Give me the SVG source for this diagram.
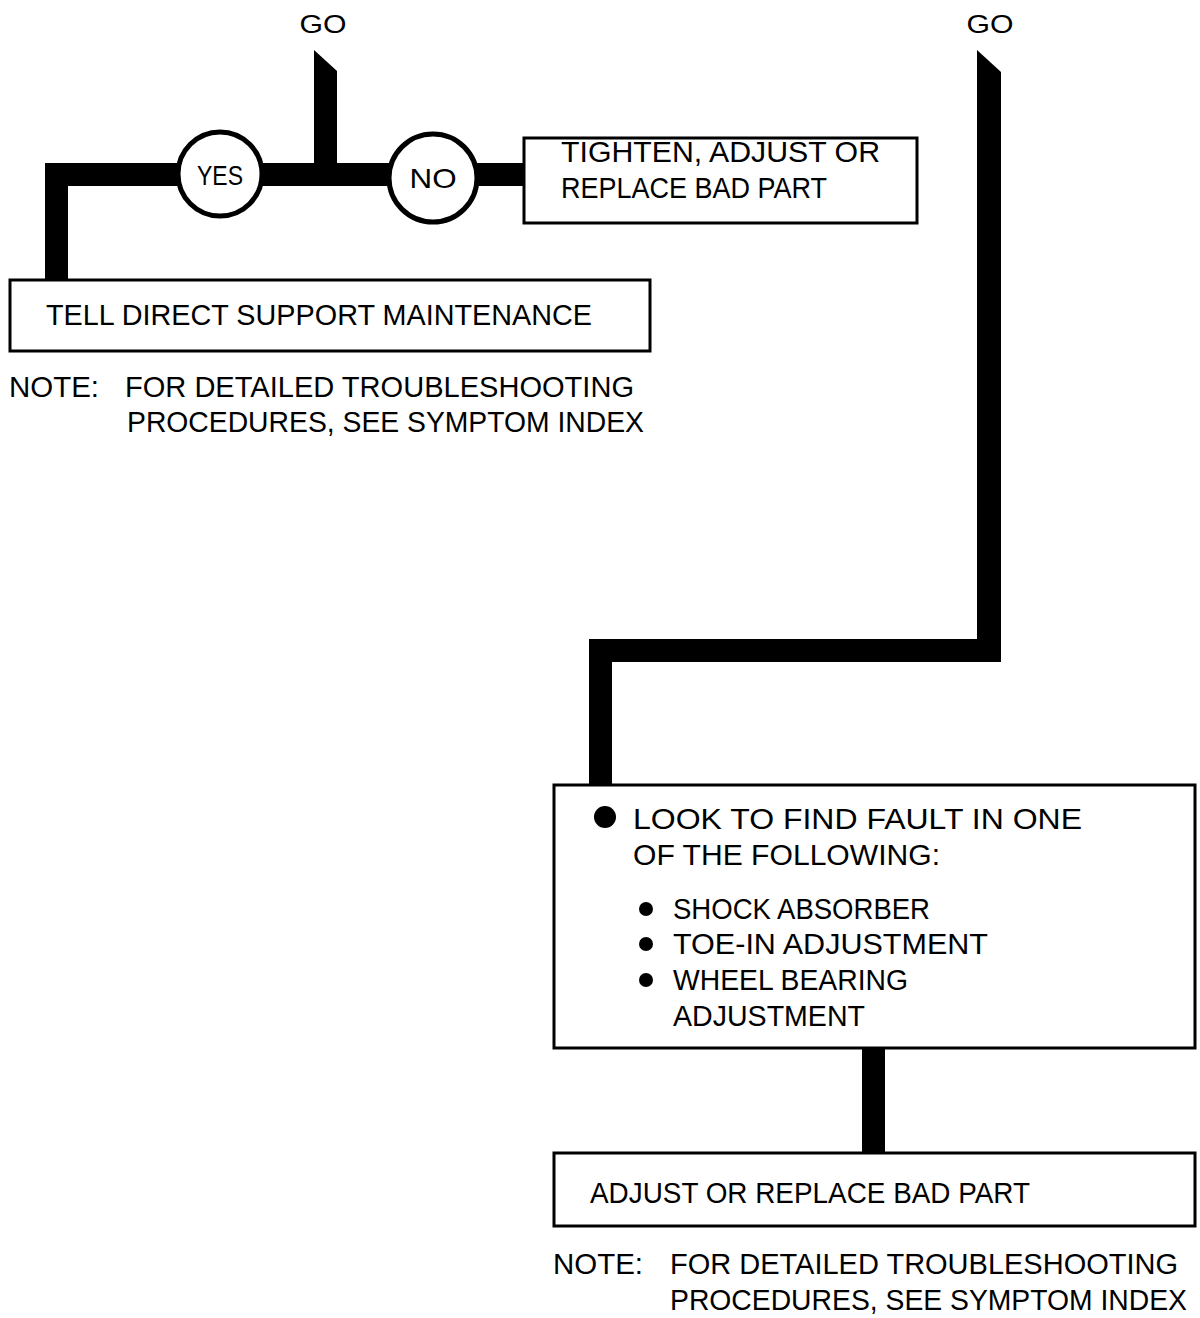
<svg xmlns="http://www.w3.org/2000/svg" width="1200" height="1318" viewBox="0 0 1200 1318">
<style>
  text { font-family: "Liberation Sans", Arial, sans-serif; font-size: 29px; fill: #000; }
  .box { fill: #fff; stroke: #000; stroke-width: 3; }
  .circ { fill: #fff; stroke: #000; stroke-width: 5; }
  .conn { fill: #000; stroke: none; }
  .go { font-size: 25px; }
  .yn { font-size: 28px; }
</style>
<rect width="1200" height="1318" fill="#fff"/>
<g id="connectors">
  <polygon class="conn" points="314,50 337,71 337,175 314,175"/>
  <rect class="conn" x="45" y="163" width="480" height="23"/>
  <rect class="conn" x="45" y="163" width="23" height="118"/>
  <polygon class="conn" points="977,50 1001,72 1001,662 977,662"/>
  <rect class="conn" x="589" y="639" width="412" height="23"/>
  <rect class="conn" x="589" y="639" width="23" height="147"/>
  <rect class="conn" x="862" y="1047" width="23" height="107"/>
</g>
<g id="go-left">
  <text x="323" y="33" text-anchor="middle" class="go" textLength="47" lengthAdjust="spacingAndGlyphs">GO</text>
</g>
<g id="go-right">
  <text x="990" y="33" text-anchor="middle" class="go" textLength="47" lengthAdjust="spacingAndGlyphs">GO</text>
</g>
<g id="yes">
  <circle class="circ" cx="220" cy="174" r="42"/>
  <text x="220" y="185" text-anchor="middle" class="yn" textLength="46" lengthAdjust="spacingAndGlyphs">YES</text>
</g>
<g id="no">
  <circle class="circ" cx="433" cy="178" r="44"/>
  <text x="433" y="188" text-anchor="middle" class="yn" textLength="47" lengthAdjust="spacingAndGlyphs">NO</text>
</g>
<g id="tighten">
  <rect class="box" x="524" y="138" width="393" height="85"/>
  <text x="561" y="162" textLength="319" lengthAdjust="spacingAndGlyphs">TIGHTEN, ADJUST OR</text>
  <text x="561" y="198" textLength="266" lengthAdjust="spacingAndGlyphs">REPLACE BAD PART</text>
</g>
<g id="tell">
  <rect class="box" x="10" y="280" width="640" height="71"/>
  <text x="46" y="325" textLength="546" lengthAdjust="spacingAndGlyphs">TELL DIRECT SUPPORT MAINTENANCE</text>
</g>
<g id="note-left">
  <text x="9" y="397" textLength="90" lengthAdjust="spacingAndGlyphs">NOTE:</text>
  <text x="125" y="397" textLength="509" lengthAdjust="spacingAndGlyphs">FOR DETAILED TROUBLESHOOTING</text>
  <text x="127" y="432" textLength="517" lengthAdjust="spacingAndGlyphs">PROCEDURES, SEE SYMPTOM INDEX</text>
</g>
<g id="look">
  <rect class="box" x="554" y="785" width="641" height="263"/>
  <circle cx="605" cy="817" r="11" fill="#000"/>
  <text x="633" y="829" textLength="449" lengthAdjust="spacingAndGlyphs">LOOK TO FIND FAULT IN ONE</text>
  <text x="633" y="865" textLength="307" lengthAdjust="spacingAndGlyphs">OF THE FOLLOWING:</text>
  <circle cx="646" cy="909" r="7" fill="#000"/>
  <text x="673" y="919" textLength="257" lengthAdjust="spacingAndGlyphs">SHOCK ABSORBER</text>
  <circle cx="646" cy="944" r="7" fill="#000"/>
  <text x="673" y="954" textLength="315" lengthAdjust="spacingAndGlyphs">TOE-IN ADJUSTMENT</text>
  <circle cx="646" cy="980" r="7" fill="#000"/>
  <text x="673" y="990" textLength="235" lengthAdjust="spacingAndGlyphs">WHEEL BEARING</text>
  <text x="673" y="1026" textLength="192" lengthAdjust="spacingAndGlyphs">ADJUSTMENT</text>
</g>
<g id="adjust">
  <rect class="box" x="554" y="1153" width="641" height="73"/>
  <text x="590" y="1203" textLength="440" lengthAdjust="spacingAndGlyphs">ADJUST OR REPLACE BAD PART</text>
</g>
<g id="note-right">
  <text x="553" y="1274" textLength="90" lengthAdjust="spacingAndGlyphs">NOTE:</text>
  <text x="670" y="1274" textLength="508" lengthAdjust="spacingAndGlyphs">FOR DETAILED TROUBLESHOOTING</text>
  <text x="670" y="1310" textLength="517" lengthAdjust="spacingAndGlyphs">PROCEDURES, SEE SYMPTOM INDEX</text>
</g>
</svg>
